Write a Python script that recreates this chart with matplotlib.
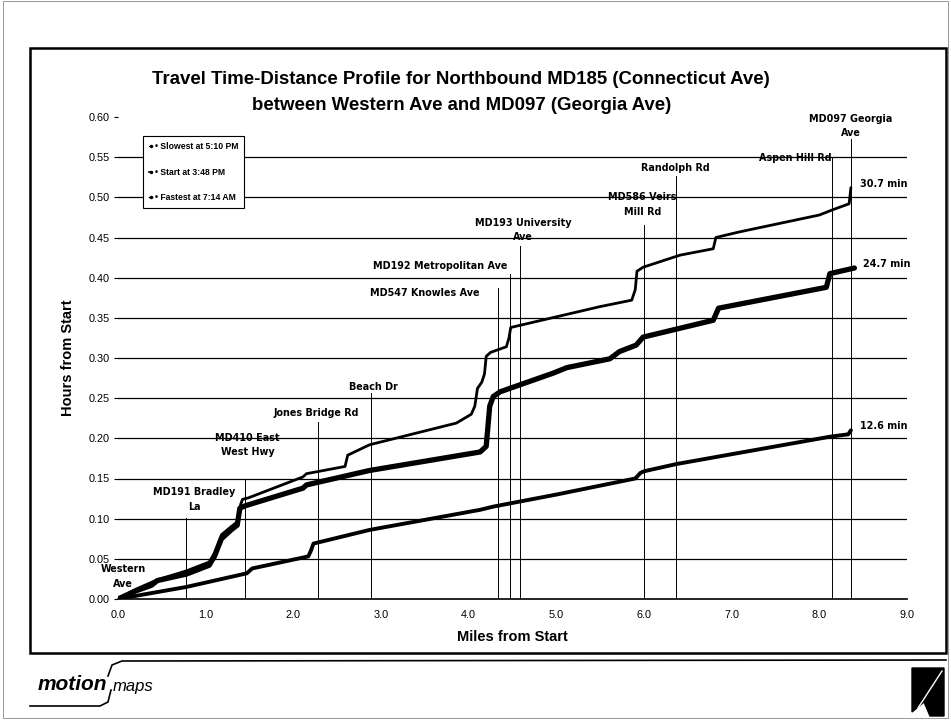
import matplotlib
matplotlib.use("Agg")
import matplotlib.pyplot as plt
from matplotlib.lines import Line2D
from matplotlib.patches import Rectangle, Polygon

plt.rcParams['font.family'] = ['Liberation Sans', 'DejaVu Sans']

# travel runs: miles from start vs hours from start
slow_miles = [0, 0.2, 0.45, 0.78, 1.04, 1.10, 1.18, 1.29, 1.36, 1.40, 1.42, 1.49, 2.11, 2.15, 2.59, 2.62,
              2.87, 3.86, 4.03, 4.07, 4.10, 4.15, 4.18, 4.20, 4.25, 4.43, 4.46, 4.48, 5.50, 5.86, 5.90,
              5.92, 5.99, 6.41, 6.79, 6.82, 7.09, 8.00, 8.14, 8.34, 8.36]
slow_hours = [0, 0.012, 0.024, 0.035, 0.046, 0.057, 0.080, 0.090, 0.096, 0.118, 0.124, 0.126, 0.152, 0.156,
              0.165, 0.179, 0.192, 0.219, 0.230, 0.240, 0.262, 0.270, 0.280, 0.302, 0.307, 0.314, 0.325,
              0.338, 0.364, 0.372, 0.385, 0.408, 0.413, 0.428, 0.436, 0.450, 0.457, 0.478, 0.484, 0.492,
              0.512]

start_miles = [0, 0.2, 0.38, 0.45, 0.78, 1.04, 1.10, 1.18, 1.29, 1.36, 1.39, 1.45, 2.11, 2.15, 2.87, 4.13,
               4.20, 4.22, 4.24, 4.28, 4.36, 4.96, 5.12, 5.61, 5.72, 5.91, 5.99, 6.41, 6.79, 6.85, 8.08,
               8.12, 8.40]
start_hours = [0, 0.010, 0.017, 0.023, 0.031, 0.042, 0.053, 0.075, 0.086, 0.092, 0.113, 0.116, 0.138, 0.142,
               0.160, 0.183, 0.190, 0.215, 0.240, 0.252, 0.258, 0.281, 0.288, 0.299, 0.308, 0.316, 0.326,
               0.337, 0.347, 0.362, 0.388, 0.405, 0.412]

fast_miles = [0, 0.78, 1.47, 1.53, 2.17, 2.20, 2.23, 2.87, 4.13, 4.28, 5.00, 5.90, 5.96, 6.00, 6.37, 8.12,
              8.33, 8.36]
fast_hours = [0, 0.015, 0.032, 0.038, 0.053, 0.060, 0.069, 0.086, 0.111, 0.115, 0.130, 0.150, 0.157, 0.159,
              0.168, 0.202, 0.205, 0.210]

run_labels = ["Slowest at 5:10 PM", "Start at 3:48 PM", "Fastest at 7:14 AM"]
end_labels = ["30.7 min", "24.7 min", "12.6 min"]

# cross streets: position, top of marker line, label text, label anchor
street_miles = [0.77, 1.45, 2.28, 2.89, 4.34, 4.47, 4.58, 6.00, 6.37, 8.14, 8.36]
street_tops = [0.101, 0.150, 0.220, 0.256, 0.387, 0.404, 0.439, 0.466, 0.526, 0.550, 0.572]
street_names = ["MD191 Bradley\nLa", "MD410 East\nWest Hwy", "Jones Bridge Rd", "Beach Dr",
                "MD547 Knowles Ave", "MD192 Metropolitan Ave", "MD193 University\nAve",
                "MD586 Veirs\nMill Rd", "Randolph Rd", "Aspen Hill Rd", "MD097 Georgia\nAve"]
label_x = [0.87, 1.48, 2.26, 2.91, 4.12, 4.44, 4.62, 5.98, 6.36, 8.14, 8.36]
label_y = [0.124, 0.192, 0.231, 0.264, 0.381, 0.415, 0.459, 0.491, 0.537, 0.549, 0.589]
label_ha = ['center', 'center', 'center', 'center', 'right', 'right', 'center',
            'center', 'center', 'right', 'center']

W, H = 951, 721
fig = plt.figure(figsize=(W / 100, H / 100), dpi=100)
ax = fig.add_axes([118 / W, 1 - 599 / H, (907 - 118) / W, (599 - 117) / H])


def fx(px):
    return px / W


def fy(py):
    return 1 - py / H


street_font = dict(fontsize=6.9, fontweight='bold', family=['DejaVu Sans'])

# horizontal grid
for g in [0.05 * i for i in range(1, 12)]:
    ax.axhline(g, color='black', lw=0.9, zorder=1)

for m, top in zip(street_miles, street_tops):
    ax.plot([m, m], [0, top], color='black', lw=0.7, zorder=2)

ax.plot(slow_miles, slow_hours, color='black', lw=2.0, solid_capstyle='round', zorder=3)
ax.plot(start_miles, start_hours, color='black', lw=3.8, solid_capstyle='round', zorder=4)
ax.plot(fast_miles, fast_hours, color='black', lw=2.8, solid_capstyle='round', zorder=3)

for name, x, y, ha in zip(street_names, label_x, label_y, label_ha):
    ax.text(x, y, name, ha=ha, va='center', multialignment='center', linespacing=1.55,
            zorder=5, **street_font)
ax.text(0.06, 0.028, "Western\nAve", ha='center', va='center', linespacing=1.55, zorder=5,
        **street_font)

ends = [(slow_miles[-1], slow_hours[-1]), (start_miles[-1], start_hours[-1]),
        (fast_miles[-1], fast_hours[-1])]
for (x, y), txt in zip(ends, end_labels):
    ax.text(x + 0.1, y + 0.005, txt, ha='left', va='center', zorder=5, **street_font)

handles = [Line2D([], [], color='black', lw=w, marker='o', markersize=1.5) for w in (0.8, 1.2, 1.0)]
leg = ax.legend(handles, ["\u2022 " + s for s in run_labels], loc='upper left',
                bbox_to_anchor=(0.24, 0.5815), bbox_transform=ax.transData,
                prop=dict(size=6.2, weight='bold'), handlelength=0.3, handletextpad=0.3,
                labelspacing=1.9, borderpad=0.7, fancybox=False, framealpha=1, edgecolor='black')
leg.get_frame().set_linewidth(0.8)
leg.set_zorder(6)

ax.set_xlim(0, 9)
ax.set_ylim(0, 0.6)
ax.set_xticks(range(10))
ax.set_xticklabels(["%.1f" % v for v in range(10)], fontsize=7.8)
ax.set_yticks([0.05 * i for i in range(13)])
ax.set_yticklabels(["%.2f" % (0.05 * i) for i in range(13)], fontsize=7.8)
ax.tick_params(axis='x', length=0, pad=8)
ax.tick_params(axis='y', length=3, width=0.8, pad=3)
for s in ('top', 'right', 'left'):
    ax.spines[s].set_visible(False)
ax.spines['bottom'].set_linewidth(1.2)
ax.set_facecolor('none')

ax.set_xlabel("Miles from Start", fontsize=10.5, fontweight='bold', labelpad=7)
ax.set_ylabel("Hours from Start", fontsize=10.5, fontweight='bold', labelpad=10)

fig.text(0.485, fy(80), "Travel Time-Distance Profile for Northbound MD185 (Connecticut Ave)",
         ha='center', va='center', fontsize=13.4, fontweight='bold')
fig.text(0.485, fy(105), "between Western Ave and MD097 (Georgia Ave)",
         ha='center', va='center', fontsize=13.4, fontweight='bold')

# chart frame and page border
fig.add_artist(Rectangle((fx(30), fy(653)), fx(946) - fx(30), fy(48) - fy(653),
                         transform=fig.transFigure, fill=False, lw=1.8, edgecolor='black'))
fig.add_artist(Rectangle((fx(3), fy(718)), fx(948) - fx(3), fy(1) - fy(718),
                         transform=fig.transFigure, fill=False, lw=0.6, edgecolor='#888888'))

# logo
fig.add_artist(Line2D([fx(108), fx(112), fx(122), fx(946)], [fy(676), fy(665), fy(661), fy(660)],
                      transform=fig.transFigure, color='black', lw=1.2))
fig.add_artist(Line2D([fx(30), fx(100), fx(108), fx(111)], [fy(706), fy(706), fy(702), fy(690)],
                      transform=fig.transFigure, color='black', lw=1.2))
fig.text(fx(38), fy(684), "motion", fontsize=15, fontweight='bold', style='italic',
         ha='left', va='center')
fig.text(fx(113), fy(686), "maps", fontsize=12, style='italic', ha='left', va='center')
fig.add_artist(Polygon([(fx(912), fy(668)), (fx(944), fy(668)), (fx(944), fy(716)), (fx(930), fy(716)),
                        (fx(924), fy(702)), (fx(912), fy(712))],
                       transform=fig.transFigure, closed=True, color='black'))
fig.add_artist(Line2D([fx(918), fx(942)], [fy(708), fy(671)], transform=fig.transFigure,
                      color='white', lw=1.0))

fig.savefig("out.png", dpi=100)
